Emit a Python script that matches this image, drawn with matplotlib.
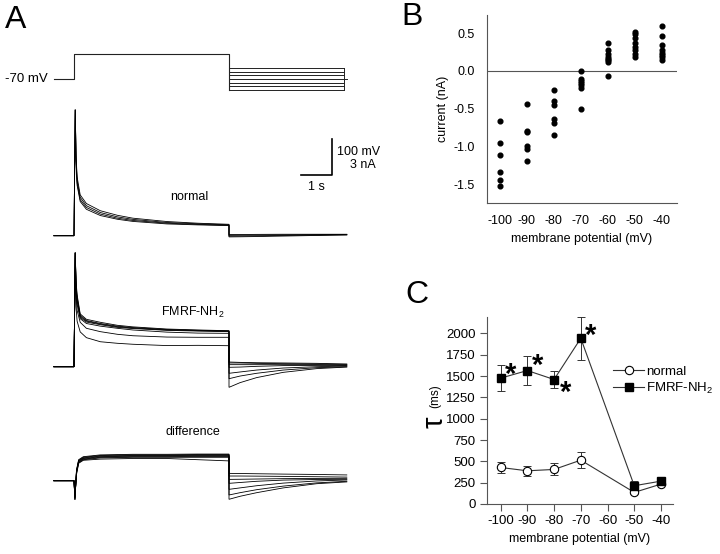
import matplotlib
matplotlib.use('Agg')
import matplotlib.pyplot as plt

plt.rcParams['font.family'] = ['Liberation Sans', 'DejaVu Sans']
plt.rcParams['mathtext.fontset'] = 'custom'
plt.rcParams['mathtext.rm'] = 'Liberation Sans'
plt.rcParams['mathtext.it'] = 'Liberation Sans:italic'

# ---------------- data ----------------
# Panel A: voltage protocol (mV) and times (s)
HOLD_MV = -70
STEP_MV = 0
TEST_MV = [-40, -50, -60, -70, -80, -90, -100]
PRE_T = [-0.65, 0.0]
STEP_END_T = 5.0
PROTO_END_T = 8.71

# current traces (nA)
STEP_T = [0.0, 0.04, 0.065, 0.1, 0.2, 0.4, 0.85, 1.4, 1.9, 3.0, 4.0, 5.0]
POST_T = [5.0, 5.355, 5.89, 6.75, 7.83, 8.8]

NORMAL_STEP = [
    [0, 10.5, 6.8, 4.9, 3.40, 2.68, 2.08, 1.70, 1.46, 1.18, 1.04, 0.95],
    [0, 10.5, 6.6, 4.6, 3.20, 2.50, 1.93, 1.57, 1.36, 1.10, 0.99, 0.91],
    [0, 10.5, 6.4, 4.4, 3.00, 2.35, 1.80, 1.46, 1.27, 1.04, 0.94, 0.87],
    [0, 10.5, 6.2, 4.2, 2.85, 2.20, 1.68, 1.37, 1.19, 0.98, 0.90, 0.84],
]
NORMAL_POST = [
    [0.10, 0.10, 0.11, 0.12, 0.12, 0.12],
    [0.03, 0.04, 0.05, 0.07, 0.09, 0.10],
    [-0.04, -0.03, -0.01, 0.02, 0.05, 0.08],
    [-0.10, -0.09, -0.07, -0.03, 0.02, 0.06],
]

FMRF_STEP = [
    [0, 9.5, 7.2, 6.0, 4.40, 3.95, 3.70, 3.45, 3.32, 3.14, 3.06, 3.00],
    [0, 9.5, 7.0, 5.8, 4.30, 3.85, 3.60, 3.38, 3.26, 3.10, 3.03, 2.98],
    [0, 9.5, 6.9, 5.6, 4.20, 3.80, 3.55, 3.33, 3.22, 3.06, 3.00, 2.95],
    [0, 9.5, 6.8, 5.5, 4.10, 3.72, 3.50, 3.28, 3.18, 3.03, 2.97, 2.92],
    [0, 9.5, 6.5, 5.2, 4.00, 3.60, 3.38, 3.20, 3.06, 2.88, 2.80, 2.78],
    [0, 9.5, 6.0, 4.7, 3.70, 3.20, 2.92, 2.70, 2.58, 2.47, 2.45, 2.45],
    [0, 9.5, 5.0, 3.8, 2.90, 2.42, 2.08, 1.95, 1.87, 1.76, 1.78, 1.75],
]
FMRF_POST = [
    [0.39, 0.36, 0.33, 0.31, 0.28, 0.22],
    [0.31, 0.31, 0.28, 0.25, 0.22, 0.20],
    [0.17, 0.17, 0.17, 0.17, 0.17, 0.14],
    [-0.05, -0.03, 0.03, 0.09, 0.11, 0.11],
    [-0.55, -0.44, -0.28, -0.11, 0.00, 0.06],
    [-1.00, -0.78, -0.55, -0.28, -0.08, 0.00],
    [-1.72, -1.33, -0.91, -0.47, -0.16, -0.03],
]

DIFF_STEP_T = [0.0, 0.03, 0.08, 0.15, 0.3, 0.85, 1.9, 3.0, 4.0, 5.0]
DIFF_STEP = [
    [0, -1.6, 0.9, 1.75, 2.00, 2.15, 2.20, 2.20, 2.22, 2.22],
    [0, -1.6, 0.8, 1.70, 1.95, 2.10, 2.15, 2.15, 2.18, 2.18],
    [0, -1.5, 0.8, 1.65, 1.90, 2.05, 2.10, 2.10, 2.12, 2.12],
    [0, -1.5, 0.7, 1.60, 1.85, 2.00, 2.05, 2.05, 2.08, 2.08],
    [0, -1.4, 0.7, 1.55, 1.80, 1.95, 2.00, 2.00, 2.02, 2.02],
    [0, -1.4, 0.6, 1.50, 1.75, 1.90, 1.95, 1.95, 1.95, 1.95],
    [0, -1.3, 0.5, 1.45, 1.70, 1.80, 1.85, 1.85, 1.75, 1.65],
]
DIFF_POST = [
    [0.61, 0.60, 0.58, 0.55, 0.52, 0.48],
    [0.39, 0.39, 0.38, 0.36, 0.33, 0.30],
    [0.11, 0.12, 0.14, 0.17, 0.19, 0.20],
    [-0.22, -0.15, -0.05, 0.05, 0.10, 0.12],
    [-0.72, -0.60, -0.42, -0.20, -0.02, 0.06],
    [-1.19, -1.00, -0.75, -0.45, -0.18, -0.05],
    [-1.55, -1.30, -1.00, -0.60, -0.25, -0.10],
]

SCALE_S = 1.0
SCALE_MV = 100
SCALE_NA = 3.0

# Panel B: I-V scatter
B_VOLT = [-100, -90, -80, -70, -60, -50, -40]
B_CURRENT = [
    [-0.66, -0.96, -1.12, -1.34, -1.45, -1.53],
    [-0.44, -0.79, -0.81, -0.99, -1.04, -1.20],
    [-0.25, -0.40, -0.45, -0.64, -0.69, -0.85],
    [0.00, -0.11, -0.14, -0.16, -0.19, -0.23, -0.51],
    [0.37, 0.28, 0.23, 0.19, 0.16, 0.14, 0.12, -0.07],
    [0.52, 0.49, 0.44, 0.37, 0.32, 0.27, 0.23, 0.18],
    [0.60, 0.46, 0.34, 0.27, 0.24, 0.21, 0.18, 0.14],
]
B_YTICKS = [-1.5, -1.0, -0.5, 0.0, 0.5]

# Panel C: tau
C_VOLT = [-100, -90, -80, -70, -50, -40]
TAU_NORMAL = [428, 389, 405, 514, 136, 233]
TAU_NORMAL_ERR = [60, 58, 70, 90, 20, 15]
TAU_FMRF = [1475, 1564, 1459, 1942, 214, 268]
TAU_FMRF_ERR = [150, 175, 100, 250, 50, 20]
STAR_VOLT = [-100, -90, -80, -70]
C_YTICKS = [0, 250, 500, 750, 1000, 1250, 1500, 1750, 2000]
C_XTICKS = [-100, -90, -80, -70, -60, -50, -40]

# ---------------- layout helpers ----------------
W, H = 720, 554
fig = plt.figure(figsize=(7.2, 5.54), dpi=100)


def rect(x0, y0, x1, y1):
    return [x0 / W, 1 - y1 / H, (x1 - x0) / W, (y1 - y0) / H]


def ftext(x, y, s, **kw):
    return fig.text(x / W, 1 - y / H, s, **kw)


PX_PER_S = 31.0
T0_PX = 74.0
A_X0, A_X1 = 0, 380
XLIM_A = ((A_X0 - T0_PX) / PX_PER_S, (A_X1 - T0_PX) / PX_PER_S)
PX_PER_MV = 0.36
PX_PER_NA = 12.0


def trace_ax(top, bottom, base, px_per_unit):
    ax = fig.add_axes(rect(A_X0, top, A_X1, bottom))
    ax.set_xlim(*XLIM_A)
    ax.set_ylim((base - bottom) / px_per_unit, (base - top) / px_per_unit)
    ax.axis('off')
    return ax


TR = dict(color='black', lw=0.6, solid_joinstyle='miter')

# ---- protocol (0 mV sits at pixel row 79 - 70*0.36) ----
axp = trace_ax(40, 100, 79 + HOLD_MV * PX_PER_MV, PX_PER_MV)
axp.plot(PRE_T + [0, STEP_END_T, STEP_END_T],
         [HOLD_MV, HOLD_MV, STEP_MV, STEP_MV, min(TEST_MV)], color='#222222', lw=0.8)
for v in TEST_MV:
    axp.plot([STEP_END_T, PROTO_END_T], [v, v], color='#222222', lw=0.7)
axp.plot([PROTO_END_T, PROTO_END_T], [max(TEST_MV), min(TEST_MV)], color='#222222', lw=0.7)
axp.plot([PROTO_END_T, PROTO_END_T + 0.1], [HOLD_MV, HOLD_MV], color='#222222', lw=0.7)
ftext(48, 79, '-70 mV', ha='right', va='center', fontsize=9.5)


def draw_traces(ax, step_t, step_vals, post_vals):
    for sv, pv in zip(step_vals, post_vals):
        t = PRE_T + step_t + POST_T
        y = [0] * len(PRE_T) + sv + pv
        ax.plot(t, y, **TR)


axn = trace_ax(100, 250, 235.7, PX_PER_NA)
draw_traces(axn, STEP_T, NORMAL_STEP, NORMAL_POST)
axf = trace_ax(245, 395, 366.7, PX_PER_NA)
draw_traces(axf, STEP_T, FMRF_STEP, FMRF_POST)
axd = trace_ax(400, 520, 480.7, PX_PER_NA)
draw_traces(axd, DIFF_STEP_T, DIFF_STEP, DIFF_POST)

# scale bar (in normal-trace axes units)
sb_t, sb_i = (332 - T0_PX) / PX_PER_S, (235.7 - 175) / PX_PER_NA
axn.plot([sb_t - SCALE_S, sb_t, sb_t], [sb_i, sb_i, sb_i + SCALE_NA],
         color='black', lw=1.2, clip_on=False)
ftext(380, 152, f'{SCALE_MV} mV', ha='right', va='center', fontsize=9)
ftext(376, 165, f'{SCALE_NA:.0f} nA', ha='right', va='center', fontsize=9)
ftext(316, 187, f'{SCALE_S:.0f} s', ha='center', va='center', fontsize=9)

ftext(189, 197, 'normal', ha='center', va='center', fontsize=9)
ftext(193, 312, r'FMRF-NH$_\mathrm{2}$', ha='center', va='center', fontsize=9)
ftext(193, 432, 'difference', ha='center', va='center', fontsize=9)

# panel letters
ftext(16, 20, 'A', ha='center', va='center', fontsize=23)
ftext(412, 17, 'B', ha='center', va='center', fontsize=23)
ftext(417, 295, 'C', ha='center', va='center', fontsize=23)

SPINE = '#555555'

# ---- panel B ----
axb = fig.add_axes(rect(487, 15, 677, 203))
for v, cur in zip(B_VOLT, B_CURRENT):
    axb.plot([v] * len(cur), cur, 'o', color='black', ms=3.4, mec='black', clip_on=False)
axb.axhline(0, color=SPINE, lw=0.8, zorder=0)
axb.set_xlim(-104.8, -34.4)
axb.set_ylim(-1.75, 0.74)
axb.set_xticks(B_VOLT)
axb.set_xticklabels([str(v) for v in B_VOLT])
axb.set_yticks(B_YTICKS)
axb.set_yticklabels([f'{v:.1f}' for v in B_YTICKS])
for s in ['top', 'right']:
    axb.spines[s].set_visible(False)
for s in ['left', 'bottom']:
    axb.spines[s].set_color(SPINE)
    axb.spines[s].set_linewidth(0.8)
axb.tick_params(length=0, labelsize=9, pad=9)
axb.set_xlabel('membrane potential (mV)', fontsize=9, labelpad=4)
axb.set_ylabel('current (nA)', fontsize=9, labelpad=3)

# ---- panel C ----
axc = fig.add_axes(rect(487, 316.7, 673, 504))
axc.errorbar(C_VOLT, TAU_FMRF, yerr=TAU_FMRF_ERR, fmt='none', ecolor='#333333',
             elinewidth=0.7, capsize=3, capthick=0.7, clip_on=False)
axc.errorbar(C_VOLT, TAU_NORMAL, yerr=TAU_NORMAL_ERR, fmt='none', ecolor='#333333',
             elinewidth=0.7, capsize=3, capthick=0.7, clip_on=False)
ln_n, = axc.plot(C_VOLT, TAU_NORMAL, '-o', color='#333333', lw=0.8, ms=6,
                 mfc='white', mec='black', mew=0.8, label='normal', zorder=3)
ln_f, = axc.plot(C_VOLT, TAU_FMRF, '-s', color='#333333', lw=0.8, ms=6,
                 mfc='black', mec='black', label=r'FMRF-NH$_\mathrm{2}$', zorder=3)
STAR_FS = 21
star_off = [(7, 8.6), (7.2, 10), (8.6, -2.9), (7.2, 8)]
for v, (dx, dy) in zip(STAR_VOLT, star_off):
    tau = TAU_FMRF[C_VOLT.index(v)]
    axc.annotate('*', xy=(v, tau), xytext=(dx, dy - 0.585 * STAR_FS),
                 textcoords='offset points', ha='center', va='baseline',
                 fontsize=STAR_FS, fontweight='bold')
axc.set_xlim(-105.1, -35.5)
axc.set_ylim(0, 2195)
axc.set_xticks(C_XTICKS)
axc.set_xticklabels([str(v) for v in C_XTICKS])
axc.set_yticks(C_YTICKS)
axc.set_yticklabels([str(v) for v in C_YTICKS])
for s in ['top', 'right']:
    axc.spines[s].set_visible(False)
for s in ['left', 'bottom']:
    axc.spines[s].set_color(SPINE)
    axc.spines[s].set_linewidth(0.8)
axc.tick_params(length=5, width=0.8, color=SPINE, labelsize=9.5, pad=3)
axc.set_xlabel('membrane potential (mV)', fontsize=9, labelpad=4)
axc.legend(handles=[ln_n, ln_f], loc='upper left', bbox_to_anchor=(0.68, 0.74),
           frameon=False, fontsize=9.5, handlelength=2.3, handletextpad=0.2,
           borderpad=0, borderaxespad=0, labelspacing=0.25, numpoints=1)
ftext(435, 422, 'τ', ha='center', va='center', rotation=90, fontsize=21)
ftext(435, 396, '(ms)', ha='center', va='center', rotation=90, fontsize=8.5)

fig.savefig('out.png', dpi=100)
